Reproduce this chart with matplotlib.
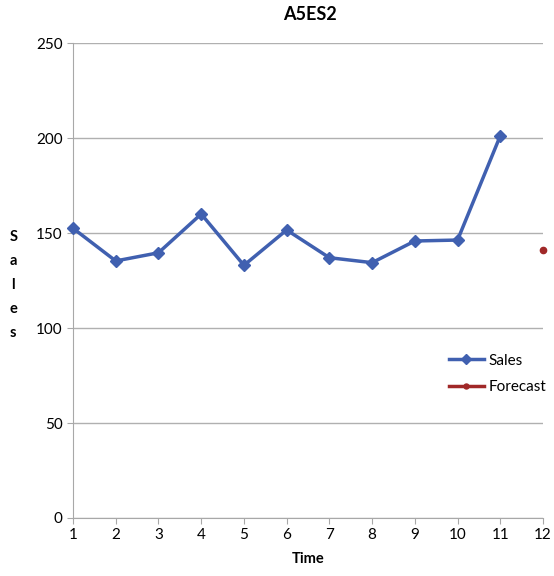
import matplotlib.pyplot as plt
import numpy as np

plt.rcParams['font.family'] = ['Lato', 'DejaVu Sans']

# data
time = np.arange(1, 12)
sales = [152.5, 135.3, 139.6, 160.0, 133.0, 151.6, 137.0, 134.4, 145.8, 146.3, 201.2]
forecast_time = [12]
forecast = [141.0]
yticks = [0, 50, 100, 150, 200, 250]

fig = plt.figure(figsize=(5.54, 5.76), dpi=100)
ax = fig.add_axes([0.1318, 0.1007, 0.8484, 0.8246])

ax.plot(time, sales, color='#4060b0', lw=2.5, marker='D', ms=6, label='Sales', clip_on=False, zorder=3)
ax.plot(forecast_time, forecast, color='#a02828', lw=2.5, marker='o', ms=4.5, label='Forecast', clip_on=False, zorder=3)

ax.set_xlim(1, 12)
ax.set_ylim(0, 250)
ax.set_xticks(np.arange(1, 13))
ax.set_yticks(yticks)
ax.grid(axis='y', color='#b0b0b0', lw=1)
ax.set_axisbelow(True)
for s in ['top', 'right']:
    ax.spines[s].set_visible(False)
for s in ['left', 'bottom']:
    ax.spines[s].set_color('#a8a8a8')
ax.tick_params(colors='#a8a8a8', labelcolor='black', labelsize=11, length=4, direction='out')

fig.text(0.56, 0.975, 'A5ES2', ha='center', va='center', fontsize=13, fontweight='bold')
fig.text(0.5555, 0.018, 'Time', ha='center', va='bottom', fontsize=10.5, fontweight='bold')
fig.text(0.024, 0.505, 'S\na\nl\ne\ns', ha='center', va='center', fontsize=10.5, fontweight='bold', linespacing=1.9)

leg = ax.legend(loc='upper left', bbox_to_anchor=(0.77, 0.375), frameon=False, fontsize=11,
                handlelength=2.3, handletextpad=0.3, labelspacing=0.8, markerscale=0.8)

fig.savefig('out.png', dpi=100, facecolor='w')
plt.close()
